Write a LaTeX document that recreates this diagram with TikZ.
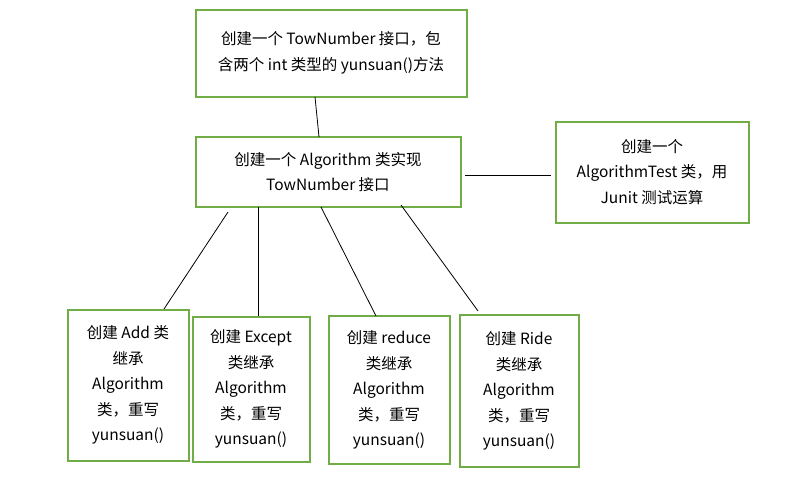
\documentclass[tikz,border=0pt]{standalone}
\usepackage{fontspec}
\setmainfont{Noto Sans CJK SC}
\usepackage{xcolor}
\definecolor{boxgreen}{HTML}{70AD47}
\begin{document}
\begin{tikzpicture}[x=1pt,y=-1pt,font=\fontsize{15.5}{25.5}\selectfont]
  \tikzstyle{blk}=[draw=boxgreen,line width=2pt,rectangle,align=center,inner sep=0pt]
  \tikzstyle{lnk}=[black,line width=0.8pt]
  \useasboundingbox (0,0) rectangle (805,490);

  % Upper boxes
  \node[blk,minimum width=271pt,minimum height=87pt] (iface) at (331,53) {创建一个 TowNumber 接口，包\\含两个 int 类型的 yunsuan()方法};
  \node[blk,minimum width=265pt,minimum height=70pt] (algo) at (328,172) {创建一个 Algorithm 类实现\\TowNumber 接口};
  \node[blk,minimum width=193pt,minimum height=101pt] (test) at (652,172) {创建一个\\AlgorithmTest 类，用\\Junit 测试运算};

  % Lower boxes
  \node[blk,minimum width=121pt,minimum height=151pt] (add) at (128,385) {创建 Add 类\\继承\\Algorithm\\类，重写\\yunsuan()};
  \node[blk,minimum width=117pt,minimum height=145pt] (except) at (251,389) {创建 Except\\类继承\\Algorithm\\类，重写\\yunsuan()};
  \node[blk,minimum width=121pt,minimum height=148pt] (reduce) at (389,390) {创建 reduce\\类继承\\Algorithm\\类，重写\\yunsuan()};
  \node[blk,minimum width=119pt,minimum height=152pt] (ride) at (519,391) {创建 Ride\\类继承\\Algorithm\\类，重写\\yunsuan()};

  % Connectors
  \coordinate (t1) at (315,97);
  \coordinate (t2) at (319,137);
  \draw[lnk] (t1) -- (t2);
  \coordinate (r1) at (465,175);
  \coordinate (r2) at (551,175);
  \draw[lnk] (r1) -- (r2);
  \coordinate (a1) at (228,212);
  \coordinate (a2) at (164,309);
  \draw[lnk] (a1) -- (a2);
  \coordinate (e1) at (258,207);
  \draw[lnk] (e1) -- (except.north -| e1);
  \coordinate (d1) at (321,207);
  \coordinate (d2) at (376,316);
  \draw[lnk] (d1) -- (d2);
  \coordinate (s1) at (401,205);
  \coordinate (s2) at (478,311);
  \draw[lnk] (s1) -- (s2);
\end{tikzpicture}
\end{document}
